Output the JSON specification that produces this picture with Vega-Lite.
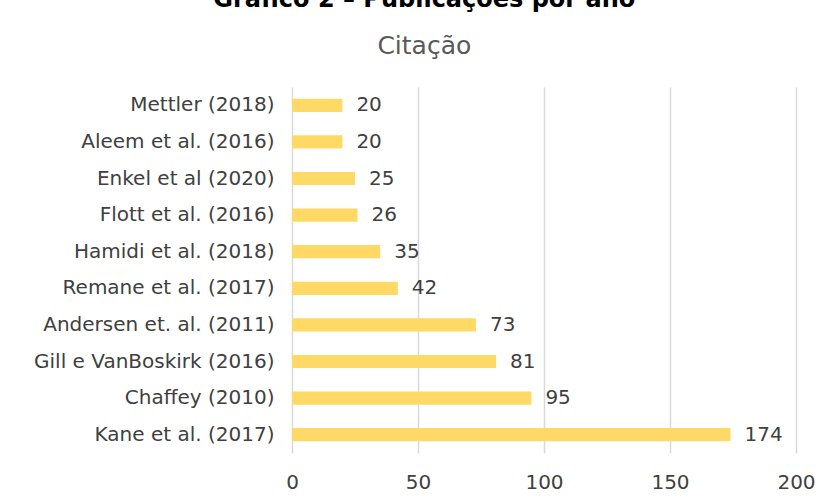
{
  "$schema": "https://vega.github.io/schema/vega-lite/v6.json",
  "autosize": {"type": "none"},
  "width": 504,
  "height": 366,
  "padding": {"left": 292, "top": 87, "right": 30, "bottom": 49},
  "background": "white",
  "title": {
    "text": "Gráfico 2 – Publicações por ano",
    "subtitle": "Citação",
    "anchor": "middle",
    "frame": "bounds",
    "font": "DejaVu Sans",
    "fontSize": 24,
    "fontWeight": "bold",
    "color": "black",
    "subtitleFont": "DejaVu Sans",
    "subtitleFontSize": 25,
    "subtitleColor": "#595959",
    "subtitlePadding": 22,
    "offset": 28
  },
  "data": {
    "values": [
      {"autor": "Mettler (2018)", "citacoes": 20},
      {"autor": "Aleem et al. (2016)", "citacoes": 20},
      {"autor": "Enkel et al (2020)", "citacoes": 25},
      {"autor": "Flott et al. (2016)", "citacoes": 26},
      {"autor": "Hamidi et al. (2018)", "citacoes": 35},
      {"autor": "Remane et al. (2017)", "citacoes": 42},
      {"autor": "Andersen et. al. (2011)", "citacoes": 73},
      {"autor": "Gill e VanBoskirk (2016)", "citacoes": 81},
      {"autor": "Chaffey (2010)", "citacoes": 95},
      {"autor": "Kane et al. (2017)", "citacoes": 174}
    ]
  },
  "encoding": {
    "y": {
      "field": "autor",
      "type": "nominal",
      "sort": null,
      "scale": {"paddingInner": 0, "paddingOuter": 0},
      "axis": {
        "title": null,
        "domain": false,
        "ticks": false,
        "grid": false,
        "labelFont": "DejaVu Sans",
        "labelFontSize": 20,
        "labelColor": "#404040",
        "labelPadding": 18,
        "labelLimit": 400
      }
    },
    "x": {
      "field": "citacoes",
      "type": "quantitative",
      "scale": {"domain": [0, 200], "nice": false},
      "axis": {
        "title": null,
        "values": [0, 50, 100, 150, 200],
        "domain": false,
        "ticks": false,
        "grid": true,
        "gridColor": "#D9D9D9",
        "gridWidth": 1.5,
        "labelFont": "DejaVu Sans",
        "labelFontSize": 20,
        "labelColor": "#404040",
        "labelPadding": 19,
        "labelFlush": false
      }
    }
  },
  "layer": [
    {
      "mark": {"type": "bar", "color": "#FFD966", "height": {"band": 0.36}}
    },
    {
      "mark": {
        "type": "text",
        "align": "left",
        "baseline": "middle",
        "dx": 14,
        "font": "DejaVu Sans",
        "fontSize": 20,
        "color": "#404040"
      },
      "encoding": {"text": {"field": "citacoes", "type": "quantitative"}}
    }
  ],
  "config": {"view": {"stroke": null}}
}
